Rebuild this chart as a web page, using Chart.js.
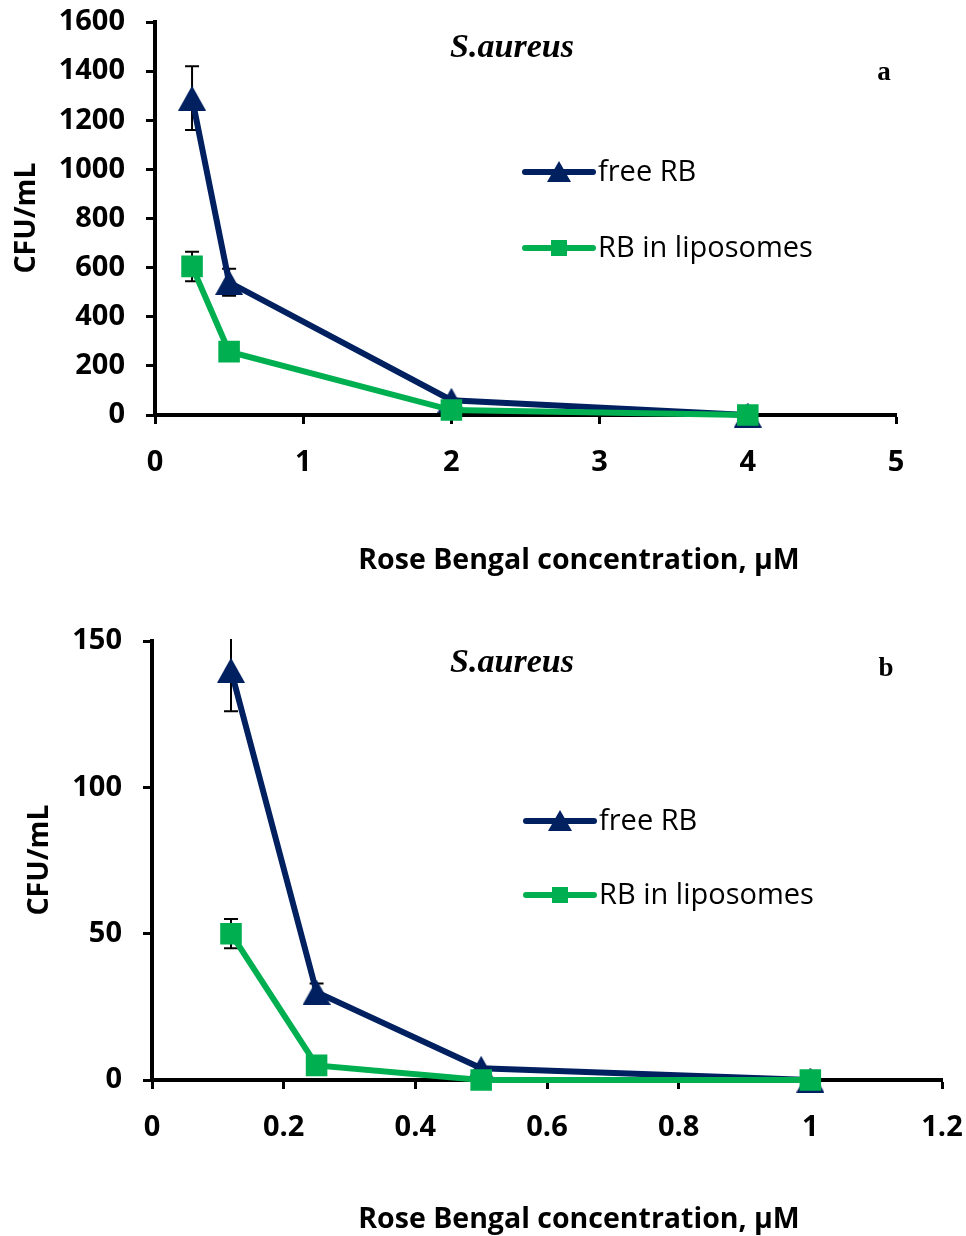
<!DOCTYPE html>
<html>
<head>
<meta charset="utf-8">
<script src="https://cdn.jsdelivr.net/npm/chart.js@4.4.0/dist/chart.umd.min.js"></script>
<style>
    body { margin: 0; background: #fff; }
    .panel { position: absolute; left: 0; width: 966px; height: 618px; }
</style>
</head>
<body>
<div class="panel" style="top:0"><canvas id="chartA" width="966" height="618"></canvas></div>
<div class="panel" style="top:618px"><canvas id="chartB" width="966" height="618"></canvas></div>
<script>
// Panel a
const concA = [0.25, 0.5, 2, 4];
const freeA = [1290, 540, 60, 0];
const freeErrA = [130, 55, 0, 0];
const lipoA = [605, 258, 20, 0];
const lipoErrA = [60, 0, 0, 0];
const xTicksA = [0, 1, 2, 3, 4, 5];
const yTicksA = [0, 200, 400, 600, 800, 1000, 1200, 1400, 1600];

// Panel b
const concB = [0.12, 0.25, 0.5, 1];
const freeB = [140, 30, 4, 0];
const freeErrB = [14, 3, 0, 0];
const lipoB = [50, 5, 0, 0];
const lipoErrB = [5, 0, 0, 0];
const xTicksB = [0, 0.2, 0.4, 0.6, 0.8, 1, 1.2];
const yTicksB = [0, 50, 100, 150];

const seriesNames = ['free RB', 'RB in liposomes'];
const navy = '#002060';
const green = '#00B050';
const FONT = "'Open Sans', sans-serif";

function toPoints(xs, ys) {
    return xs.map((x, i) => ({ x: x, y: ys[i] }));
}

// triangle marker centred on its bounding box (like Excel)
function triangleMarker(w, h, color) {
    const c = document.createElement('canvas');
    c.width = w; c.height = h;
    const g = c.getContext('2d');
    g.fillStyle = color;
    g.beginPath();
    g.moveTo(w / 2, 0);
    g.lineTo(w, h);
    g.lineTo(0, h);
    g.closePath();
    g.fill();
    return c;
}
const triImg = triangleMarker(28, 25, navy);

// error bars drawn under the lines
const errorBars = {
    id: 'errorBars',
    beforeDatasetsDraw(chart, args, opts) {
        const ctx = chart.ctx;
        const xs = chart.scales.x, ys = chart.scales.y;
        const area = chart.chartArea;
        ctx.save();
        ctx.beginPath();
        ctx.rect(area.left - 20, area.top - 2, area.width + 40, area.height + 4);
        ctx.clip();
        ctx.strokeStyle = '#000';
        ctx.lineWidth = 2;
        chart.data.datasets.forEach(ds => {
            ds.data.forEach((p, i) => {
                const e = ds.err[i];
                if (!e) return;
                const px = xs.getPixelForValue(p.x);
                const top = ys.getPixelForValue(p.y + e);
                const bot = ys.getPixelForValue(p.y - e);
                ctx.beginPath();
                ctx.moveTo(px, top); ctx.lineTo(px, bot);
                ctx.moveTo(px - 7, top); ctx.lineTo(px + 7, top);
                ctx.moveTo(px - 7, bot); ctx.lineTo(px + 7, bot);
                ctx.stroke();
            });
        });
        ctx.restore();
    }
};

// titles, italic label, panel letter and the legend
const annotations = {
    id: 'annotations',
    afterDraw(chart, args, o) {
        const ctx = chart.ctx;
        ctx.save();
        ctx.fillStyle = '#000';
        ctx.textAlign = 'center';
        ctx.textBaseline = 'middle';

        ctx.font = "bold 28.5px " + FONT;
        ctx.fillText('Rose Bengal concentration, \u03bcM', o.xTitle[0], o.xTitle[1]);

        ctx.save();
        ctx.translate(o.yTitle[0], o.yTitle[1]);
        ctx.rotate(-Math.PI / 2);
        ctx.fillText('CFU/mL', 0, 0);
        ctx.restore();

        ctx.font = "italic bold 34px 'Liberation Serif', serif";
        ctx.fillText('S.aureus', o.species[0], o.species[1]);
        ctx.font = "bold 27px 'Liberation Serif', serif";
        ctx.fillText(o.letter, o.letterPos[0], o.letterPos[1]);

        // legend
        ctx.textAlign = 'left';
        ctx.font = "29px " + FONT;
        const colors = [navy, green];
        o.legendY.forEach((ly, i) => {
            ctx.strokeStyle = colors[i];
            ctx.fillStyle = colors[i];
            ctx.lineWidth = 6;
            ctx.lineCap = 'round';
            ctx.beginPath();
            ctx.moveTo(o.legendX, ly);
            ctx.lineTo(o.legendX + 68, ly);
            ctx.stroke();
            const cx = o.legendX + 34;
            if (i === 0) {
                ctx.beginPath();
                ctx.moveTo(cx, ly - 11);
                ctx.lineTo(cx + 12, ly + 10);
                ctx.lineTo(cx - 12, ly + 10);
                ctx.closePath();
                ctx.fill();
            } else {
                ctx.fillRect(cx - 8, ly - 8, 16, 16);
            }
            ctx.fillStyle = '#000';
            ctx.fillText(seriesNames[i], o.legendX + 73, ly + 1);
        });
        ctx.restore();
    }
};

function axis(ticks, min, max, fitFn) {
    return {
        type: 'linear',
        min: min,
        max: max,
        afterBuildTicks: s => { s.ticks = ticks.map(v => ({ value: v })); },
        afterFit: s => {
            fitFn(s);
            s.paddingTop = 0; s.paddingBottom = 0;
            s.paddingLeft = 0; s.paddingRight = 0;
        },
        grid: {
            drawOnChartArea: false,
            drawTicks: true,
            tickLength: 9,
            tickWidth: 3,
            tickColor: '#000'
        },
        border: { display: true, color: '#000', width: 4 },
        ticks: {
            color: '#000',
            padding: 21,
            font: { family: FONT, size: 29, weight: 'bold' },
            callback: v => String(v)
        }
    };
}

function makeChart(id, xs, free, freeErr, lipo, lipoErr, xTicks, yTicks, xMax, yMax, layout, notes) {
    return new Chart(document.getElementById(id), {
        type: 'line',
        data: {
            datasets: [{
                label: seriesNames[0],
                data: toPoints(xs, free),
                err: freeErr,
                borderColor: navy,
                backgroundColor: navy,
                borderWidth: 6,
                pointStyle: triImg,
                pointRadius: 14,
                pointHoverRadius: 14,
                clip: false,
                order: 1
            }, {
                label: seriesNames[1],
                data: toPoints(xs, lipo),
                err: lipoErr,
                borderColor: green,
                backgroundColor: green,
                borderWidth: 6,
                pointStyle: 'rect',
                pointRadius: 11,
                pointHoverRadius: 11,
                clip: false,
                order: 0
            }]
        },
        options: {
            responsive: false,
            animation: false,
            layout: { padding: { top: layout.top, right: layout.right, left: 0, bottom: 0 } },
            plugins: {
                legend: { display: false },
                tooltip: { enabled: false },
                annotations: notes
            },
            scales: {
                x: axis(xTicks, 0, xMax, s => { s.height = layout.xHeight; }),
                y: axis(yTicks, 0, yMax, s => { s.width = layout.yWidth; })
            }
        },
        plugins: [errorBars, annotations]
    });
}

makeChart('chartA', concA, freeA, freeErrA, lipoA, lipoErrA, xTicksA, yTicksA, 5, 1600,
    { top: 22, right: 70, xHeight: 203, yWidth: 155 },
    { xTitle: [579, 561], yTitle: [27, 218], species: [512, 48], letter: 'a', letterPos: [884, 73],
      legendX: 525, legendY: [172, 248] });

makeChart('chartB', concB, freeB, freeErrB, lipoB, lipoErrB, xTicksB, yTicksB, 1.2, 150,
    { top: 23, right: 24, xHeight: 156, yWidth: 152 },
    { xTitle: [579, 602], yTitle: [40, 242], species: [512, 45], letter: 'b', letterPos: [886, 51],
      legendX: 526, legendY: [203, 277] });
</script>
</body>
</html>
